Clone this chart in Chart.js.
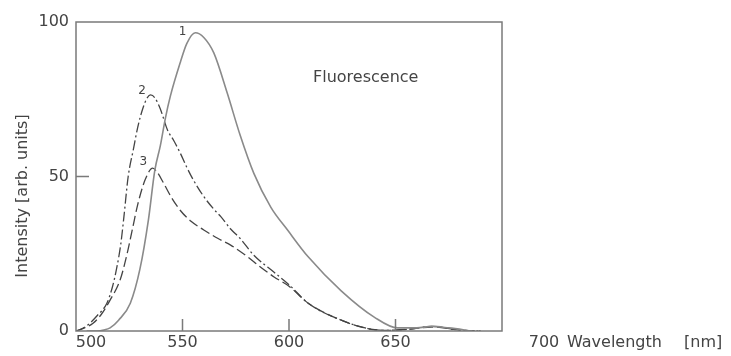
<!DOCTYPE html>
<html>
<head>
<meta charset="utf-8">
<script src="https://cdn.jsdelivr.net/npm/chart.js@4.4.1/dist/chart.umd.min.js"></script>
<style>
  html, body { margin:0; padding:0; background:#fff; }
  #wrap { width:731px; height:356px; position:relative; }
</style>
</head>
<body>
<div id="wrap"><canvas id="chart-fluo"></canvas></div>
<script>
// Fluorescence spectra — three samples

// curve 1 (solid)
const wl1  = [505, 510, 513, 516, 520, 525.5, 530, 534, 537, 539.6, 542, 544.3, 549, 552, 556, 560, 564.7, 571, 577, 583.5, 591.5, 599.5, 609, 624.5, 640, 651, 660, 667, 675, 686];
const int1 = [0,   0,   0.3, 1,   3.5, 9,     20,  36,  52,  60,    69,  76,    87,  93,  96.5, 95, 90,    77,  63.5, 51,  40,    32.5,  24,  13,    4.5, 1,   1,   1.5, 1,   0];

// curve 2 (dash-dot)
const wl2  = [500, 503, 506.6, 510, 514.5, 517, 519, 521, 522.5, 524.5, 527, 529, 531.6, 533.5, 535,  537,  539.5, 543, 546,  549,  552, 555, 560,  564.6, 568, 572.6, 577, 583.5, 593, 600, 609, 624.5, 637, 645, 655, 667, 680, 690];
const int2 = [0,   0.8, 2.6,   5,   9,     14,  20,  28,  37,    50,    59,  66,  72.5,  75.5,  76.4, 75.5, 72,    65,  61.5, 57.5, 53,  49,  43.5, 39.5,  37,  33,    30,  24.5,  19,  15,  9,   3.5,   0.8, 0.2, 0.5, 1.5, 0.3, 0];

// curve 3 (dashed)
const wl3  = [500, 504, 508, 512, 516, 520.7, 524, 526.5, 529, 532.5, 536,  538,  541, 545, 549, 554,  560,  566.5, 572.6, 580.6, 586, 593,  600,  609, 624.5, 637, 645, 655, 667, 680, 690];
const int3 = [0,   1,   2.5, 5.5, 10,  16.5,  25,  33,    41,  49,    52.7, 51.5, 48,  43,  39,  35.5, 32.7, 30,    27.8,  24,    21,  17.5, 14.5, 9,   3.5,   0.8, 0.2, 0.5, 1.3, 0.3, 0];

const xTicks = [500, 550, 600, 650, 700];
const yTicks = [0, 50, 100];
const curveNames = ['1', '2', '3'];
// where each curve number sits, in data units
const nameWl  = [550, 531, 531.6];
const nameInt = [96.8, 77.7, 54.7];

const FONT = '"DejaVu Sans", sans-serif';
const INK = '#444';
const FRAME = '#7a7a7a';

function pts(xs, ys) { return xs.map((x, i) => ({ x, y: ys[i] })); }

// frame, inward ticks, x labels, titles and curve numbers
const decor = {
  id: 'decor',
  afterDraw(chart) {
    const { ctx, chartArea: a, scales: { x, y } } = chart;
    ctx.save();
    ctx.strokeStyle = FRAME;
    ctx.lineWidth = 1.5;
    ctx.strokeRect(a.left, a.top, a.right - a.left, a.bottom - a.top);

    ctx.beginPath();
    [550, 600, 650].forEach(v => {
      const px = x.getPixelForValue(v);
      ctx.moveTo(px, a.bottom); ctx.lineTo(px, a.bottom - 12);
    });
    const py = y.getPixelForValue(50);
    ctx.moveTo(a.left, py); ctx.lineTo(a.left + 13, py);
    ctx.stroke();

    ctx.fillStyle = INK;
    ctx.font = '16px ' + FONT;
    ctx.textBaseline = 'middle';
    ctx.textAlign = 'center';
    // the end labels are set off the corners in the original
    const nudge = { 500: 15, 700: 42 };
    xTicks.forEach(v => {
      ctx.fillText(String(v), x.getPixelForValue(v) + (nudge[v] || 0), 343);
    });

    ctx.textAlign = 'left';
    ctx.fillText('Wavelength', 567, 343);
    ctx.fillText('[nm]', 684, 343);
    ctx.fillText('Fluorescence', 313, 78);

    ctx.save();
    ctx.translate(23, 196);
    ctx.rotate(-Math.PI / 2);
    ctx.textAlign = 'center';
    ctx.fillText('Intensity [arb. units]', 0, 0);
    ctx.restore();

    ctx.font = '12px ' + FONT;
    ctx.textAlign = 'center';
    curveNames.forEach((n, i) => {
      ctx.fillText(n, x.getPixelForValue(nameWl[i]), y.getPixelForValue(nameInt[i]));
    });
    ctx.restore();
  }
};

new Chart(document.getElementById('chart-fluo'), {
  type: 'line',
  data: {
    datasets: [
      { label: '1', data: pts(wl1, int1), borderColor: '#8a8a8a', borderWidth: 1.6 },
      { label: '2', data: pts(wl2, int2), borderColor: INK, borderWidth: 1.3, borderDash: [10, 3, 2, 3] },
      { label: '3', data: pts(wl3, int3), borderColor: INK, borderWidth: 1.3, borderDash: [10, 4] }
    ]
  },
  options: {
    responsive: true, maintainAspectRatio: false, animation: false,
    layout: { padding: { left: 0, top: 22, right: 229, bottom: 0 } },
    elements: {
      point: { radius: 0 },
      line: { tension: 0.4, cubicInterpolationMode: 'monotone', fill: false }
    },
    plugins: { legend: { display: false }, tooltip: { enabled: false } },
    scales: {
      x: {
        type: 'linear', min: 500, max: 700,
        afterFit: s => { s.height = 25; },
        ticks: { display: false },
        grid: { display: false, drawTicks: false },
        border: { display: false }
      },
      y: {
        min: 0, max: 100,
        afterFit: s => { s.width = 76; },
        afterBuildTicks: s => { s.ticks = yTicks.map(v => ({ value: v })); },
        ticks: { color: INK, font: { size: 16, family: FONT }, padding: 7 },
        grid: { display: false, drawTicks: false },
        border: { display: false }
      }
    }
  },
  plugins: [decor]
});
</script>
</body>
</html>
